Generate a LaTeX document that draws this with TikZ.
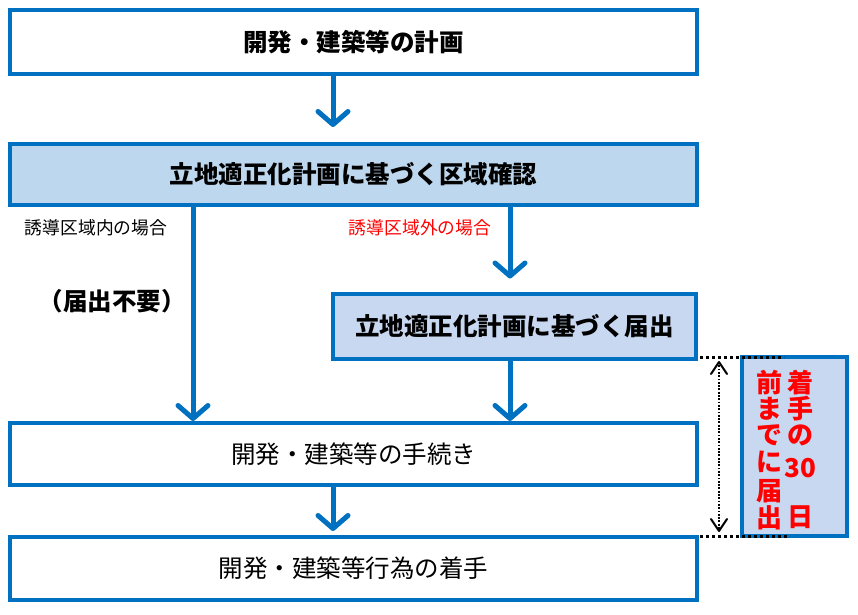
\documentclass[tikz,border=0pt]{standalone}
\usepackage{fontspec}
\setmainfont{Noto Sans CJK JP}
\usetikzlibrary{arrows.meta}
\definecolor{bl}{HTML}{0070C0}
\definecolor{fillA}{HTML}{BDD7EE}
\definecolor{fillB}{HTML}{C8D8F0}
\definecolor{rd}{HTML}{FF0000}
\begin{document}
\begin{tikzpicture}[x=1pt,y=-1pt,
  box/.style={draw=bl, line width=4pt, inner sep=0pt, fill=white,
    font=\fontsize{24.5}{28}\selectfont},
  boldbox/.style={box, font=\fontsize{24.5}{28}\selectfont\bfseries},
  flow/.style={draw=bl, line width=5pt,
    -{Straight Barb[length=13pt,width=30pt,round]}},
  lbl/.style={inner sep=0pt, font=\fontsize{17.8}{20}\selectfont},
  vch/.style={inner sep=0pt, text=rd, font=\fontsize{26}{28}\selectfont\bfseries},
  sq/.style={draw=black, line width=3pt, dash pattern=on 3pt off 3pt},
  dimline/.style={draw=black, line width=1.8pt, dash pattern=on 1.8pt off 1.5pt},
  dimtip/.style={draw=black, line width=2pt, line cap=round, line join=round}
]
\useasboundingbox (0,0) rectangle (858,614);

% boxes
\node[boldbox, minimum width=687pt, minimum height=64pt] (b1) at (353.5,42) {開発・建築等の計画};
\node[boldbox, fill=fillA, minimum width=687pt, minimum height=61pt] (b2) at (353.5,174.5) {立地適正化計画に基づく区域確認};
\node[boldbox, fill=fillB, minimum width=363pt, minimum height=65pt] (b3) at (514.5,326) {立地適正化計画に基づく届出};
\node[box, minimum width=687pt, minimum height=62pt] (b4) at (353.5,454) {開発・建築等の手続き};
\node[box, minimum width=687pt, minimum height=63pt] (b5) at (353.5,568.5) {開発・建築等行為の着手};
\node[box, fill=fillB, minimum width=105pt, minimum height=179pt] (side) at (794,446) {};

% labels
\node[lbl] (l1) at (96,228) {誘導区域内の場合};
\node[lbl, text=rd] (l2) at (420,228) {誘導区域外の場合};
\node[inner sep=0pt, font=\fontsize{24.5}{28}\selectfont\bfseries] (l3) at (112,301) {（届出不要）};

% connectors
\coordinate (xc) at (333,0);
\coordinate (xl) at (193,0);
\coordinate (xr) at (510,0);
\draw[flow, shorten >=15pt] (b1.south -| xc) -- (b2.north -| xc);
\draw[flow] (b2.south -| xl) -- (b4.north -| xl);
\draw[flow, shorten >=13pt] (b2.south -| xr) -- (b3.north -| xr);
\draw[flow] (b3.south -| xr) -- (b4.north -| xr);
\draw[flow, shorten >=4pt] (b4.south -| xc) -- (b5.north -| xc);

% side annotation
\coordinate (h1a) at (700,357);
\coordinate (h1b) at (784,357);
\coordinate (h2a) at (700,536);
\coordinate (h2b) at (788,536);
\draw[sq] (h1a) -- (h1b);
\draw[sq] (h2a) -- (h2b);
\coordinate (d1) at (719,362);
\coordinate (d2) at (719,531);
\draw[dimline] (d1) -- (d2);
\draw[dimtip] ([xshift=-8pt]d1) ++(0,12) -- (d1) -- ++(8,12);
\draw[dimtip] ([xshift=-8pt]d2) ++(0,-12) -- (d2) -- ++(8,-12);

\node[vch] (r1) at (800,383) {着};
\node[vch] (r2) at (800,409) {手};
\node[vch] (r3) at (800,435) {の};
\node[vch] (r4) at (800,468) {30};
\node[vch] (r5) at (800,517) {日};
\node[vch] (k1) at (769,383) {前};
\node[vch] (k2) at (769,409) {ま};
\node[vch] (k3) at (769,435) {で};
\node[vch] (k4) at (769,462) {に};
\node[vch] (k5) at (769,491) {届};
\node[vch] (k6) at (769,518) {出};
\end{tikzpicture}
\end{document}
